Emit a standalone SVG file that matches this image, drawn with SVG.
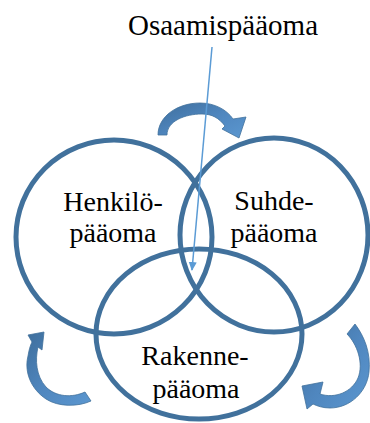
<svg xmlns="http://www.w3.org/2000/svg" width="370" height="423" viewBox="0 0 370 423">
  <style>
    .ring { fill: none; stroke: #41719C; stroke-width: 5; }
    .label { font-family: "Liberation Serif", "Times New Roman", serif; font-size: 28px; fill: #000; text-anchor: middle; }
    .cycle { fill: url(#cycleFill); stroke: #41719C; stroke-width: 0.8; stroke-linejoin: miter; }
    .pointer { stroke: #5B9BD5; stroke-width: 1.5; fill: none; }
  </style>
  <defs>
    <linearGradient id="cycleFill" x1="0" y1="0" x2="1" y2="1">
      <stop offset="0" stop-color="#3E6E9C"/>
      <stop offset="0.5" stop-color="#4F86BE"/>
      <stop offset="1" stop-color="#5B97D0"/>
    </linearGradient>
    <marker id="tip" markerWidth="10" markerHeight="10" refX="8" refY="4" orient="auto" markerUnits="userSpaceOnUse">
      <path d="M0,0 L9,4 L0,8 Z" fill="#5B9BD5"/>
    </marker>
  </defs>

  <rect width="370" height="423" fill="#ffffff"/>

  <!-- three overlapping capital areas -->
  <g id="henkilopaaoma">
    <ellipse class="ring" cx="114" cy="237" rx="98" ry="97"/>
    <text class="label" x="113" y="211">Henkilö-</text>
    <text class="label" x="113" y="242">pääoma</text>
  </g>
  <g id="suhdepaaoma">
    <ellipse class="ring" cx="274" cy="235" rx="94" ry="97"/>
    <text class="label" x="274" y="210">Suhde-</text>
    <text class="label" x="274" y="242">pääoma</text>
  </g>
  <g id="rakennepaaoma">
    <ellipse class="ring" cx="199" cy="334" rx="103" ry="85"/>
    <text class="label" x="195" y="365">Rakenne-</text>
    <text class="label" x="196" y="398">pääoma</text>
  </g>

  <!-- circular flow arrows -->
  <g id="connectors">
    <path class="cycle" d="M158,135 C158,116 178,103 200,103 C215,103 227,110 233,119 L246,117 L239,138 L222,129 L225,126 C219,118 212,114 202,114 C185,114 167,121 167,135 Z"/>
    <path class="cycle" d="M91,401 C78,407 58,407 46,399 C31,389 24,372 28,356 C29,350 30,346 32,342 L28,335 L44,332 L42,350 L38,347 C35,360 36,376 46,387 C56,397 72,398 85,392 Z"/>
    <path class="cycle" d="M355,324 C364,336 371,352 369,372 C367,392 350,408 330,408 C323,408 317,406 313,404 L307,409 L302,386 L323,382 L320,394 C335,399 352,392 358,378 C364,363 357,344 347,334 Z"/>
    <line class="pointer" x1="212" y1="47" x2="192" y2="270" marker-end="url(#tip)"/>
  </g>

  <g id="osaamispaaoma">
    <text class="label" x="223" y="35" style="font-size:29px">Osaamispääoma</text>
  </g>
</svg>
